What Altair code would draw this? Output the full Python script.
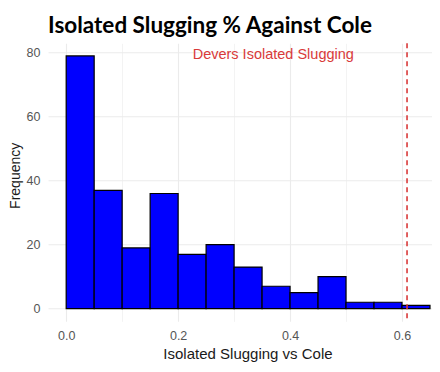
import altair as alt
import pandas as pd

# Histogram bins (width 0.05) and counts
bin_start = [0.00, 0.05, 0.10, 0.15, 0.20, 0.25, 0.30, 0.35, 0.40, 0.45, 0.50, 0.55, 0.60]
bin_end = [0.05, 0.10, 0.15, 0.20, 0.25, 0.30, 0.35, 0.40, 0.45, 0.50, 0.55, 0.60, 0.65]
counts = [79, 37, 19, 36, 17, 20, 13, 7, 5, 10, 2, 2, 1]

devers_value = [0.609]
label_x = [0.37]
label_y = [79.3]
label_text = ["Devers Isolated Slugging"]

x_grid = [0.0, 0.1, 0.2, 0.3, 0.4, 0.5, 0.6]
y_grid = [0, 10, 20, 30, 40, 50, 60, 70, 80]

RED = "#d93a3a"
W, H = 384, 278

hist = pd.DataFrame({"start": bin_start, "end": bin_end, "count": counts})

x_scale = alt.Scale(domain=[-0.0325, 0.6536], nice=False, zero=False)
y_scale = alt.Scale(domain=[-3.95, 82.95], nice=False, zero=False)

x_axis = alt.Axis(
    values=x_grid, format=".1f", title="Isolated Slugging vs Cole",
    labelExpr="round(datum.value*10) % 2 == 0 ? datum.label : ''",
    gridColor="#ebebeb",
    gridWidth=alt.condition("round(datum.value*10) % 2 == 0", alt.value(1.1), alt.value(0.6)),
    domain=False, ticks=False, labelColor="#555555", labelFontSize=12.5,
    labelFont="Liberation Sans", labelPadding=8.5,
    titleFont="Liberation Sans", titleFontSize=15, titleFontWeight="normal",
    titleColor="#1a1a1a", titleX=199.5, titleY=36.7, titleAnchor="middle",
    titleAlign="center", titleBaseline="alphabetic",
)
y_axis = alt.Axis(
    values=y_grid, title="Frequency",
    labelExpr="datum.value % 20 == 0 ? datum.label : ''",
    gridColor="#ebebeb",
    gridWidth=alt.condition("datum.value % 20 == 0", alt.value(1.1), alt.value(0.6)),
    domain=False, ticks=False, labelColor="#555555", labelFontSize=12.5,
    labelFont="Liberation Sans", labelPadding=8,
    titleFont="Liberation Sans", titleFontSize=14, titleFontWeight="normal",
    titleColor="#1a1a1a", titleX=-28.5, titleY=132, titleAngle=270,
    titleAlign="center", titleBaseline="alphabetic",
)

bars = alt.Chart(hist).mark_rect(fill="#0000ff", stroke="black", strokeWidth=1.2).encode(
    x=alt.X("start:Q", scale=x_scale, axis=x_axis),
    x2="end:Q",
    y=alt.Y("count:Q", scale=y_scale, axis=y_axis),
    y2=alt.datum(0),
)

vline = alt.Chart(pd.DataFrame({"v": devers_value})).mark_rule(
    color=RED, strokeDash=[5, 4], strokeWidth=1.6
).encode(x=alt.X("v:Q", scale=x_scale))

label = alt.Chart(pd.DataFrame({"x": label_x, "y": label_y, "t": label_text})).mark_text(
    color=RED, font="Liberation Sans", fontSize=14.5, align="center", baseline="middle"
).encode(x=alt.X("x:Q", scale=x_scale), y=alt.Y("y:Q", scale=y_scale), text="t:N")

chart = alt.layer(bars, vline, label).properties(
    width=W, height=H,
    title=alt.TitleParams(
        "Isolated Slugging % Against Cole", font="Lato", fontSize=22.5,
        fontWeight="bold", color="black", anchor="middle", frame="group",
        dx=-30, dy=13, offset=0, baseline="alphabetic",
    ),
    autosize=alt.AutoSizeParams(type="none"),
    padding={"left": 40, "top": 35.3, "right": 0, "bottom": 42.7},
    background="white",
).configure_view(stroke=None)

chart.save("out.html", embed_options={"renderer": "svg", "actions": False})
